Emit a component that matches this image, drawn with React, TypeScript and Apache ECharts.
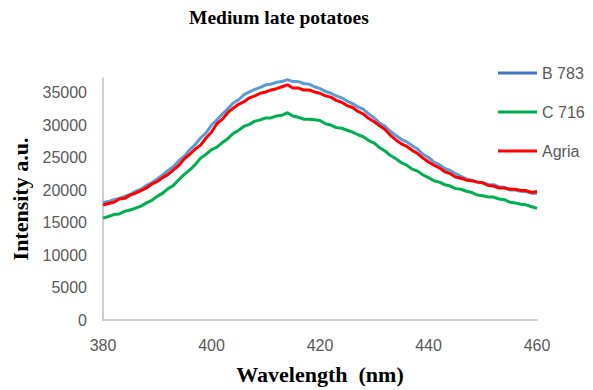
import React, { useEffect, useRef } from "react";
import * as echarts from "echarts";

const START_NM = 380;
const STEP_NM = 1;

const b783 = [
  18100, 18250, 18550, 18750, 19050, 19350, 19850, 20150, 20750, 21150,
  21750, 22350, 23050, 23650, 24550, 25250, 26250, 27050, 28050, 28850,
  30050, 30850, 31750, 32550, 33450, 33950, 34750, 35150, 35550, 35850,
  36250, 36350, 36650, 36750, 37050, 36750, 36750, 36450, 36350, 35950,
  35650, 35250, 34950, 34550, 34250, 33750, 33350, 32850, 32450, 31750,
  31150, 30350, 29850, 29050, 28450, 27850, 27450, 26850, 26350, 25550,
  25050, 24350, 23950, 23350, 23050, 22550, 22150, 21750, 21550, 21250,
  21150, 20850, 20850, 20550, 20450, 20050, 20050, 19850, 19750, 19550,
  19500,
];

const c716 = [
  15700, 15950, 16250, 16350, 16750, 16950, 17250, 17550, 18050, 18450,
  19050, 19550, 20250, 20750, 21650, 22450, 23150, 23950, 24950, 25550,
  26250, 26650, 27350, 27950, 28750, 29250, 29850, 30150, 30650, 30850,
  31150, 31150, 31450, 31550, 31950, 31450, 31250, 30950, 30950, 30850,
  30750, 30250, 30050, 29650, 29550, 29250, 28950, 28550, 28250, 27650,
  27250, 26550, 26050, 25350, 24850, 24250, 23850, 23250, 22950, 22350,
  21950, 21450, 21250, 20850, 20650, 20250, 20150, 19850, 19650, 19250,
  19150, 18950, 18950, 18650, 18550, 18150, 18050, 17850, 17750, 17450,
  17200,
];

const agria = [
  17700, 17950, 18150, 18650, 18750, 19250, 19550, 19950, 20350, 20950,
  21350, 21950, 22450, 23150, 23850, 24850, 25550, 26350, 26950, 28050,
  28950, 30250, 30950, 31950, 32650, 33250, 33650, 34250, 34550, 34950,
  35150, 35450, 35650, 35950, 36250, 35750, 35750, 35450, 35450, 35150,
  34950, 34550, 34350, 33850, 33550, 33050, 32750, 32150, 31750, 31050,
  30550, 29950, 29350, 28450, 27750, 27150, 26750, 26150, 25650, 24950,
  24350, 23850, 23450, 22850, 22550, 22050, 21850, 21550, 21450, 21250,
  21150, 20750, 20650, 20350, 20350, 20150, 20150, 19950, 19950, 19650,
  19800,
];

const seriesNames = ["B 783", "C 716", "Agria"];
const lineColors = ["#5B9BD5", "#00B050", "#FF0000"];
const legendColors = ["#4472C4", "#00B050", "#FF0000"];

const toPairs = (vals: number[]) =>
  vals.map((v, i) => [START_NM + i * STEP_NM, v]);

export default function App() {
  const ref = useRef<HTMLDivElement>(null);
  useEffect(() => {
    document.body.style.margin = "0";
    if (!ref.current) return;
    const chart = echarts.init(ref.current, null, { renderer: "svg" });
    const labelFont = {
      fontFamily: "Liberation Sans",
      fontSize: 16,
      color: "#595959",
    };
    const serifBold = {
      fontFamily: "Liberation Serif",
      fontWeight: "bold" as const,
      color: "#000",
    };
    chart.setOption({
      animation: false,
      backgroundColor: "#fff",
      title: {
        text: "Medium late potatoes",
        left: 189,
        top: 7,
        padding: 0,
        textStyle: { ...serifBold, fontSize: 19.5 },
      },
      legend: {
        orient: "vertical",
        left: 498,
        top: 65,
        padding: 0,
        icon: "rect",
        itemWidth: 39,
        itemHeight: 3,
        itemGap: 23,
        textStyle: { ...labelFont, lineHeight: 16, padding: [0, 0, 0, 0] },
        data: seriesNames.map((n, i) => ({
          name: n,
          itemStyle: { color: legendColors[i] },
        })),
      },
      grid: { left: 103, right: 56, top: 78, bottom: 65 },
      xAxis: {
        type: "value",
        min: 380,
        max: 460,
        interval: 20,
        name: "Wavelength  (nm)",
        nameLocation: "middle",
        nameGap: 43,
        nameTextStyle: { ...serifBold, fontSize: 22 },
        axisLine: { lineStyle: { color: "#BFBFBF", width: 1.5 } },
        axisTick: { show: false },
        axisLabel: { ...labelFont, margin: 17 },
        splitLine: { show: false },
      },
      yAxis: {
        type: "value",
        min: 0,
        max: 37300,
        interval: 5000,
        name: "Intensity a.u.",
        nameLocation: "middle",
        nameGap: 68,
        nameTextStyle: { ...serifBold, fontSize: 22 },
        axisLine: { show: true, lineStyle: { color: "#BFBFBF", width: 1.5 } },
        axisTick: { show: false },
        axisLabel: {
          ...labelFont,
          margin: 16,
          showMaxLabel: false,
          formatter: (v: number) => String(v),
        },
        splitLine: { show: false },
      },
      series: [b783, c716, agria].map((vals, i) => ({
        name: seriesNames[i],
        type: "line",
        data: toPairs(vals),
        showSymbol: false,
        symbol: "none",
        lineStyle: { color: lineColors[i], width: 3 },
        itemStyle: { color: lineColors[i] },
      })),
    });
    return () => chart.dispose();
  }, []);
  return <div ref={ref} style={{ width: 593, height: 390 }} />;
}
